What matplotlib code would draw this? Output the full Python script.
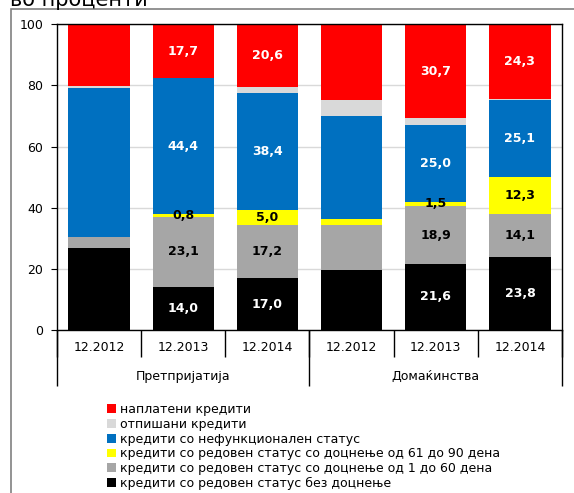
import numpy as np
import matplotlib.pyplot as plt
from matplotlib.patches import Patch, Rectangle

categories = ["12.2012", "12.2013", "12.2014", "12.2012", "12.2013", "12.2014"]
groups = ["Претпријатија", "Домаќинства"]

# stacked from bottom to top
no_delay = [26.9, 14.0, 17.0, 19.6, 21.6, 23.8]
delay_1_60 = [3.4, 23.1, 17.2, 14.7, 18.9, 14.1]
delay_61_90 = [0.0, 0.8, 5.0, 2.0, 1.5, 12.3]
nonperforming = [48.7, 44.4, 38.4, 33.8, 25.0, 25.1]
written_off = [0.8, 0.0, 1.8, 5.1, 2.3, 0.4]
repaid = [20.2, 17.7, 20.6, 24.8, 30.7, 24.3]
show_labels = [False, True, True, False, True, True]

series = [
    (no_delay, "#000000", "white", True, "кредити со редовен статус без доцнење"),
    (delay_1_60, "#a6a6a6", "black", True, "кредити со редовен статус со доцнење од 1 до 60 дена"),
    (delay_61_90, "#ffff00", "black", True, "кредити со редовен статус со доцнење од 61 до 90 дена"),
    (nonperforming, "#0070c0", "white", True, "кредити со нефункционален статус"),
    (written_off, "#d9d9d9", "black", False, "отпишани кредити"),
    (repaid, "#ff0000", "white", True, "наплатени кредити"),
]

plt.rcParams['font.family'] = ['DejaVu Sans']
fig = plt.figure(figsize=(5.74, 4.93), dpi=100)
ax = fig.add_axes([57/574, 1-330/493, 505/574, (330-24.3)/493])

# outer frame and title (title is clipped at the top, as in the source)
fig.patches.append(Rectangle((11/574, -0.1), 1.0, 1.1 - 9/493, transform=fig.transFigure,
                             fill=False, edgecolor="#808080", linewidth=1.2))
fig.text(10/574, 1-6/493, "во проценти", fontsize=15, va="baseline", ha="left")

x = np.arange(len(categories))
bottom = np.zeros(len(categories))
for vals, color, tcolor, lab, name in series:
    vals = np.array(vals)
    ax.bar(x, vals, 0.73, bottom=bottom, color=color, edgecolor="none", zorder=2)
    if lab:
        for i in range(len(x)):
            if show_labels[i] and vals[i] > 0:
                ax.text(x[i], bottom[i] + vals[i]/2, f"{vals[i]:.1f}".replace(".", ","),
                        ha="center", va="center", color=tcolor, fontsize=9,
                        fontweight="bold", zorder=3)
    bottom += vals

ax.set_xlim(-0.5, 5.5)
ax.set_ylim(0, 100)
ax.set_yticks(range(0, 101, 20))
ax.tick_params(axis="y", labelsize=9, length=4, pad=6)
ax.yaxis.grid(True, color="#d9d9d9", linewidth=1, zorder=0)
for s in ax.spines.values():
    s.set_linewidth(1)

# category level
ax.set_xticks(x)
ax.set_xticklabels(categories, fontsize=9)
ax.tick_params(axis="x", which="major", length=0, pad=8)
ax.set_xticks(np.arange(-0.5, 6, 1), minor=True)
ax.tick_params(axis="x", which="minor", length=19.5, width=1)

# group level
sec = ax.secondary_xaxis("bottom")
sec.set_xticks([1, 4])
sec.set_xticklabels(groups, fontsize=9)
sec.tick_params(axis="x", which="major", length=0, pad=29)
sec.set_xticks([-0.5, 2.5, 5.5], minor=True)
sec.tick_params(axis="x", which="minor", length=40, width=1)
sec.spines["bottom"].set_visible(False)

handles = [Patch(facecolor=c, edgecolor="none", label=n) for _, c, _, _, n in series[::-1]]
fig.legend(handles=handles, loc="upper left", bbox_to_anchor=(107/574, 1-403/493),
           frameon=False, fontsize=9, handlelength=0.7, handleheight=0.7,
           handletextpad=0.3, labelspacing=0.14, borderpad=0, borderaxespad=0)

fig.savefig("out.png", dpi=100)
